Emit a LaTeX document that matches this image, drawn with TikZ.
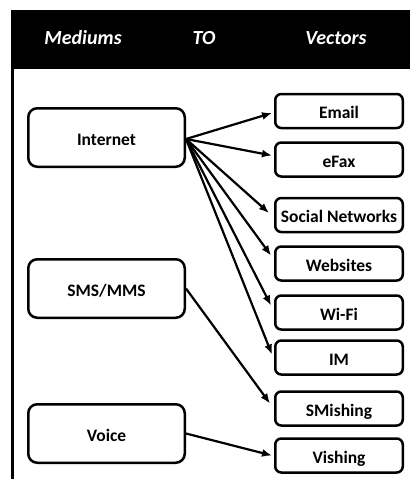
\documentclass[tikz,border=0pt]{standalone}
\usepackage{fontspec}
\setmainfont{Carlito}
\usetikzlibrary{arrows.meta}
\begin{document}
\begin{tikzpicture}[x=1pt,y=-1pt,
  medium/.style={draw, line width=2.5pt, rounded corners=9pt, minimum width=156.5pt, minimum height=58.5pt, inner sep=0pt, text height=15pt, text depth=0pt, font=\fontsize{17.5}{20}\selectfont\bfseries},
  vector/.style={draw, line width=2.5pt, rounded corners=6pt, minimum width=127.5pt, minimum height=34pt, inner sep=0pt, text height=15pt, text depth=0pt, font=\fontsize{17.5}{20}\selectfont\bfseries},
  conn/.style={line width=2.2pt, -{Latex[length=10pt,width=8pt]}},
  hdr/.style={text=white, inner sep=0pt, font=\fontsize{20}{24}\selectfont\bfseries\itshape}]
\useasboundingbox (0,0) rectangle (410,479);
% header band and left rule
\fill[black] (11,10) rectangle (410,69);
\draw[line width=2.5pt] (12.5,69) -- (12.5,479);
\node[hdr] (hm) at (83,38) {Mediums};
\node[hdr] (hto) at (204,38) {TO};
\node[hdr] (hv) at (336,38) {Vectors};
% mediums
\node[medium] (inet) at (106.5,137.5) {Internet};
\node[medium] (sms) at (106.5,288.5) {SMS/MMS};
\node[medium] (voice) at (106.5,433.5) {Voice};
% vectors
\node[vector] (email) at (339,111) {Email};
\node[vector] (efax) at (339,159.5) {eFax};
\node[vector] (social) at (339,215) {Social Networks};
\node[vector] (web) at (339,263.5) {Websites};
\node[vector] (wifi) at (339,312.5) {Wi-Fi};
\node[vector] (im) at (339,357.5) {IM};
\node[vector] (smish) at (339,408.5) {SMishing};
\node[vector] (vish) at (339,455.5) {Vishing};
% connectors
\coordinate (src) at ([yshift=-1.5pt]inet.east);
\draw[conn] (src) -- ([xshift=-2pt,yshift=-2pt]email.west);
\draw[conn] (src) -- ([xshift=-2pt,yshift=4pt]efax.west);
\draw[conn] (src) -- ([xshift=-5pt,yshift=2pt]social.west);
\draw[conn] (src) -- ([xshift=-3pt,yshift=8pt]web.west);
\draw[conn] (src) -- ([xshift=-3pt,yshift=7pt]wifi.west);
\draw[conn] (src) -- ([xshift=-2pt,yshift=3pt]im.west);
\draw[conn] (sms.east) -- ([xshift=-4pt,yshift=5pt]smish.west);
\draw[conn] (voice.east) -- ([xshift=-2pt,yshift=0pt]vish.west);
\end{tikzpicture}
\end{document}
